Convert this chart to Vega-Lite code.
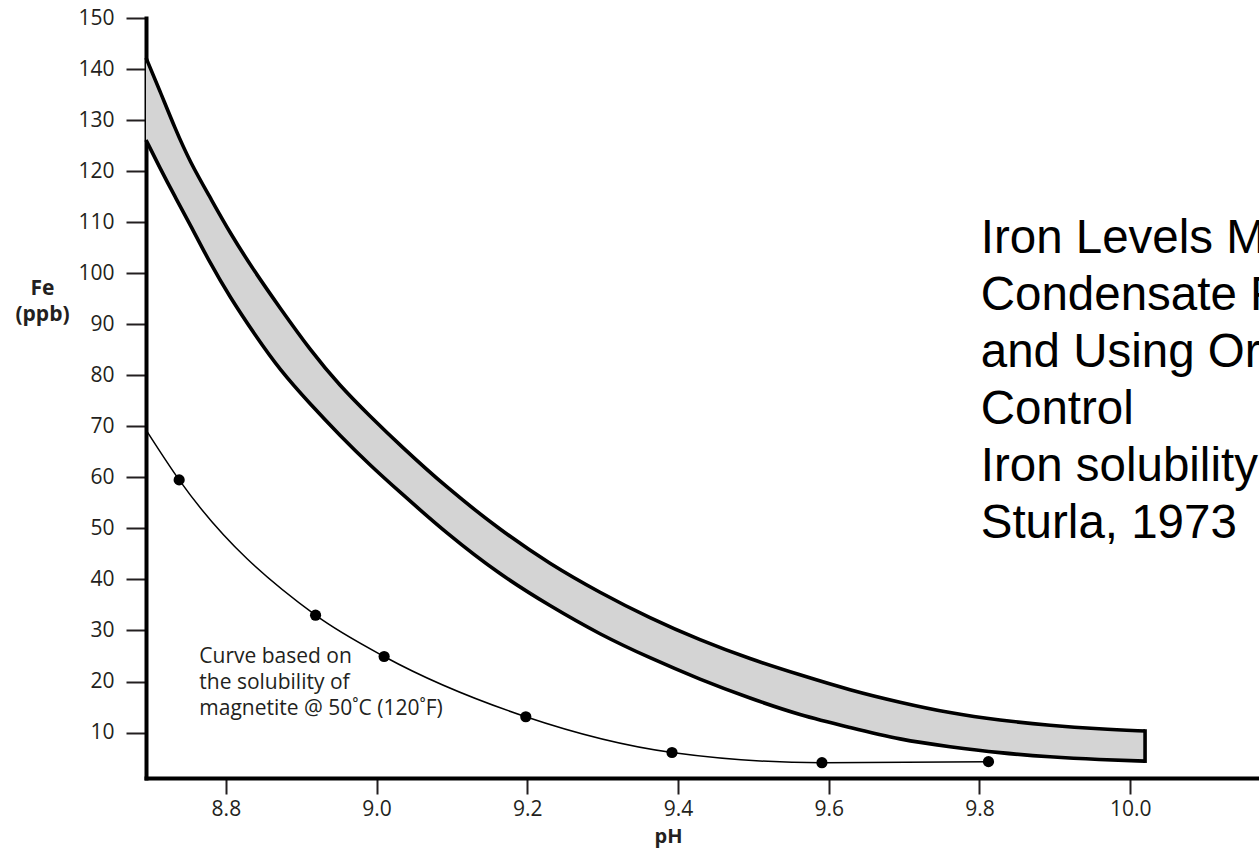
{
  "$schema": "https://vega.github.io/schema/vega-lite/v6.json",
  "width": 1113,
  "height": 760,
  "autosize": {"type": "none"},
  "padding": {"left": 146, "top": 18, "right": 0, "bottom": 70},
  "background": "white",
  "config": {
    "view": {"stroke": null},
    "font": "Open Sans",
    "axis": {"zindex": 1, "grid": false}
  },
  "datasets": {
    "band": [
      {"pH": 8.6940, "upper": 142.2, "lower": 126.1},
      {"pH": 8.7125, "upper": 135.7, "lower": 120.6},
      {"pH": 8.7324, "upper": 128.4, "lower": 115.0},
      {"pH": 8.7524, "upper": 121.8, "lower": 109.6},
      {"pH": 8.7789, "upper": 114.9, "lower": 102.0},
      {"pH": 8.8054, "upper": 107.9, "lower": 95.3},
      {"pH": 8.8386, "upper": 100.2, "lower": 87.9},
      {"pH": 8.8718, "upper": 93.2, "lower": 81.0},
      {"pH": 8.9116, "upper": 85.0, "lower": 74.4},
      {"pH": 8.9514, "upper": 77.9, "lower": 68.2},
      {"pH": 8.9912, "upper": 72.0, "lower": 62.4},
      {"pH": 9.0311, "upper": 66.3, "lower": 57.1},
      {"pH": 9.0921, "upper": 58.1, "lower": 49.1},
      {"pH": 9.1638, "upper": 49.7, "lower": 40.9},
      {"pH": 9.2301, "upper": 43.0, "lower": 34.8},
      {"pH": 9.2965, "upper": 37.4, "lower": 29.2},
      {"pH": 9.3628, "upper": 32.4, "lower": 24.6},
      {"pH": 9.4292, "upper": 28.1, "lower": 20.4},
      {"pH": 9.4956, "upper": 24.4, "lower": 16.7},
      {"pH": 9.5619, "upper": 21.3, "lower": 13.4},
      {"pH": 9.6283, "upper": 18.3, "lower": 11.0},
      {"pH": 9.6946, "upper": 15.9, "lower": 8.6},
      {"pH": 9.7610, "upper": 13.8, "lower": 7.2},
      {"pH": 9.8273, "upper": 12.4, "lower": 6.0},
      {"pH": 9.8937, "upper": 11.4, "lower": 5.2},
      {"pH": 9.9600, "upper": 10.7, "lower": 4.7},
      {"pH": 10.0198, "upper": 10.3, "lower": 4.4}
    ],
    "magnetite": [
      {"pH": 8.694, "ppb": 69.3, "dot": false},
      {"pH": 8.738, "ppb": 59.5, "dot": true},
      {"pH": 8.919, "ppb": 33.0, "dot": true},
      {"pH": 9.010, "ppb": 24.9, "dot": true},
      {"pH": 9.198, "ppb": 13.1, "dot": true},
      {"pH": 9.392, "ppb": 6.1, "dot": true},
      {"pH": 9.591, "ppb": 4.1, "dot": true},
      {"pH": 9.812, "ppb": 4.3, "dot": true}
    ],
    "notes": [
      {"pH": 8.7647, "ppb": 24.9, "label": "Curve based on\nthe solubility of\nmagnetite @ 50˚C (120˚F)"}
    ],
    "slide": [
      {"pH": 9.8017, "ppb": 104.0, "label": "Iron Levels M\nCondensate F\nand Using Or\nControl\nIron solubility\nSturla, 1973"}
    ]
  },
  "layer": [
    {
      "data": {"name": "band"},
      "mark": {"type": "area", "color": "#d4d4d4", "interpolate": "basis"},
      "encoding": {
        "x": {
          "field": "pH", "type": "quantitative",
          "scale": {"domain": [8.694, 10.171], "nice": false, "zero": false},
          "axis": {
            "title": "pH",
            "values": [8.8, 9.0, 9.2, 9.4, 9.6, 9.8, 10.0],
            "format": ".1f",
            "domainColor": "#000000", "domainWidth": 4, "domainCap": "square",
            "tickColor": "#231f20", "tickWidth": 2, "tickSize": 16,
            "labelFont": "Open Sans", "labelFontSize": 21, "labelColor": "#231f20",
            "labelPadding": 4, "labelFlush": false, "labelOverlap": false,
            "titleFont": "Open Sans", "titleFontSize": 20, "titleFontWeight": "bold",
            "titleColor": "#231f20", "titleX": 522, "titleY": 58,
            "titleAlign": "center", "titleBaseline": "middle"
          }
        },
        "y": {
          "field": "upper", "type": "quantitative",
          "scale": {"domain": [1.1, 150], "nice": false, "zero": false},
          "axis": {
            "title": ["Fe", "(ppb)"],
            "values": [10, 20, 30, 40, 50, 60, 70, 80, 90, 100, 110, 120, 130, 140, 150],
            "domainColor": "#000000", "domainWidth": 4, "domainCap": "square",
            "tickColor": "#231f20", "tickWidth": 2, "tickSize": 20,
            "labelFont": "Open Sans", "labelFontSize": 21, "labelColor": "#231f20",
            "labelPadding": 12, "labelOverlap": false, "labelFlush": false,
            "titleFont": "Open Sans", "titleFontSize": 21, "titleFontWeight": "bold",
            "titleColor": "#231f20", "titleAngle": 0, "titleX": -104, "titleY": 270,
            "titleAlign": "center", "titleBaseline": "middle", "titleLineHeight": 26
          }
        },
        "y2": {"field": "lower"}
      }
    },
    {
      "data": {"name": "band"},
      "mark": {"type": "line", "color": "#000000", "strokeWidth": 3.6, "interpolate": "basis"},
      "encoding": {
        "x": {"field": "pH", "type": "quantitative", "title": "pH"},
        "y": {"field": "upper", "type": "quantitative", "title": ["Fe", "(ppb)"]}
      }
    },
    {
      "data": {"name": "band"},
      "mark": {"type": "line", "color": "#000000", "strokeWidth": 3.6, "interpolate": "basis"},
      "encoding": {
        "x": {"field": "pH", "type": "quantitative", "title": "pH"},
        "y": {"field": "lower", "type": "quantitative", "title": ["Fe", "(ppb)"]}
      }
    },
    {
      "data": {"name": "band"},
      "transform": [{"filter": "datum.pH > 10"}],
      "mark": {"type": "rule", "color": "#000000", "strokeWidth": 3.6, "strokeCap": "square"},
      "encoding": {
        "x": {"field": "pH", "type": "quantitative", "title": "pH"},
        "y": {"field": "upper", "type": "quantitative", "title": ["Fe", "(ppb)"]},
        "y2": {"field": "lower"}
      }
    },
    {
      "data": {"name": "magnetite"},
      "mark": {"type": "line", "color": "#000000", "strokeWidth": 1.5, "interpolate": "monotone"},
      "encoding": {
        "x": {"field": "pH", "type": "quantitative", "title": "pH"},
        "y": {"field": "ppb", "type": "quantitative", "title": ["Fe", "(ppb)"]}
      }
    },
    {
      "data": {"name": "magnetite"},
      "transform": [{"filter": "datum.dot"}],
      "mark": {"type": "point", "filled": true, "color": "#000000", "opacity": 1, "size": 125},
      "encoding": {
        "x": {"field": "pH", "type": "quantitative", "title": "pH"},
        "y": {"field": "ppb", "type": "quantitative", "title": ["Fe", "(ppb)"]}
      }
    },
    {
      "data": {"name": "notes"},
      "mark": {"type": "text", "align": "left", "baseline": "middle", "font": "Open Sans", "fontSize": 21, "lineHeight": 26, "lineBreak": "\n", "color": "#231f20"},
      "encoding": {
        "x": {"field": "pH", "type": "quantitative", "title": "pH"},
        "y": {"field": "ppb", "type": "quantitative", "title": ["Fe", "(ppb)"]},
        "text": {"field": "label"}
      }
    },
    {
      "data": {"name": "slide"},
      "mark": {"type": "text", "align": "left", "baseline": "alphabetic", "font": "Liberation Sans", "fontSize": 47.5, "lineHeight": 57, "lineBreak": "\n", "color": "#000000"},
      "encoding": {
        "x": {"field": "pH", "type": "quantitative", "title": "pH"},
        "y": {"field": "ppb", "type": "quantitative", "title": ["Fe", "(ppb)"]},
        "text": {"field": "label"}
      }
    }
  ]
}
